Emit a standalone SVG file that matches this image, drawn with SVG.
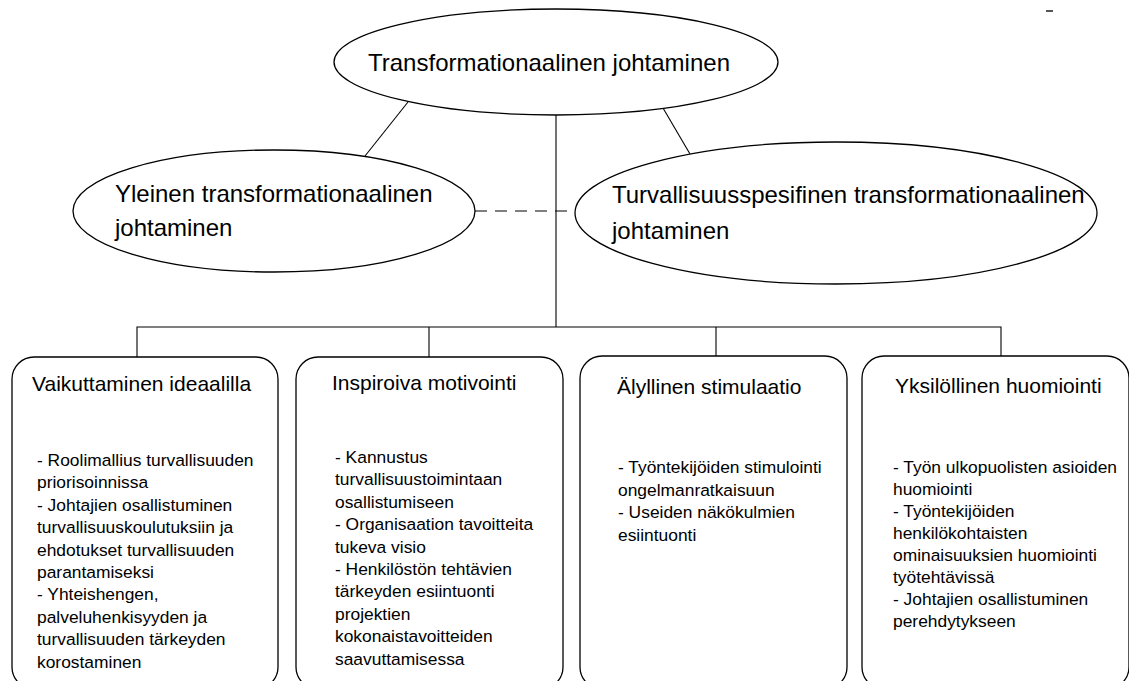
<svg xmlns="http://www.w3.org/2000/svg" width="1129" height="681" viewBox="0 0 1129 681">
<style>
.bg{fill:#ffffff}
.shape{fill:#ffffff;stroke:#000000;stroke-width:1.3}
.conn{fill:none;stroke:#000000;stroke-width:1.1}
.dash{stroke-dasharray:12 8}
.big{font-family:"Liberation Sans",Arial,sans-serif;font-size:24px;fill:#000000}
.title{font-family:"Liberation Sans",Arial,sans-serif;font-size:21px;fill:#000000}
.body{font-family:"Liberation Sans",Arial,sans-serif;font-size:17.4px;fill:#000000}
</style>
<rect class="bg" x="0" y="0" width="1129" height="681"/>
<g id="connectors">
  <line class="conn" x1="556" y1="115" x2="556" y2="327"/>
  <line class="conn" x1="408" y1="102" x2="365" y2="156"/>
  <line class="conn" x1="663" y1="108" x2="690" y2="154"/>
  <line class="conn dash" x1="475" y1="211" x2="575" y2="211"/>
  <polyline class="conn" points="137,357 137,327 1001,327 1001,357"/>
  <line class="conn" x1="429" y1="327" x2="429" y2="357"/>
  <line class="conn" x1="716" y1="327" x2="716" y2="357"/>
</g>
<g id="top">
  <ellipse class="shape" cx="556" cy="62" rx="222" ry="53"/>
  <text class="big" x="368" y="71">Transformationaalinen johtaminen</text>
</g>
<g id="general">
  <ellipse class="shape" cx="274" cy="211" rx="201" ry="61"/>
  <text class="big" x="115" y="202">Yleinen transformationaalinen<tspan x="115" dy="34">johtaminen</tspan></text>
</g>
<g id="safety">
  <ellipse class="shape" cx="836" cy="213" rx="261" ry="71"/>
  <text class="big" x="612" y="203">Turvallisuusspesifinen transformationaalinen<tspan x="612" dy="36">johtaminen</tspan></text>
</g>
<g id="box1">
  <rect class="shape" x="12" y="357" width="266" height="332" rx="22" ry="22"/>
  <text class="title" x="32" y="391">Vaikuttaminen ideaalilla</text>
  <text class="body" x="37" y="466">- Roolimallius turvallisuuden<tspan x="37" dy="22.4">priorisoinnissa</tspan><tspan x="37" dy="22.4">- Johtajien osallistuminen</tspan><tspan x="37" dy="22.4">turvallisuuskoulutuksiin ja</tspan><tspan x="37" dy="22.4">ehdotukset turvallisuuden</tspan><tspan x="37" dy="22.4">parantamiseksi</tspan><tspan x="37" dy="22.4">- Yhteishengen,</tspan><tspan x="37" dy="22.4">palveluhenkisyyden ja</tspan><tspan x="37" dy="22.4">turvallisuuden tärkeyden</tspan><tspan x="37" dy="22.4">korostaminen</tspan></text>
</g>
<g id="box2">
  <rect class="shape" x="296" y="357" width="267" height="332" rx="22" ry="22"/>
  <text class="title" x="332" y="390">Inspiroiva motivointi</text>
  <text class="body" x="335" y="463">- Kannustus<tspan x="335" dy="22.4">turvallisuustoimintaan</tspan><tspan x="335" dy="22.4">osallistumiseen</tspan><tspan x="335" dy="22.4">- Organisaation tavoitteita</tspan><tspan x="335" dy="22.4">tukeva visio</tspan><tspan x="335" dy="22.4">- Henkilöstön tehtävien</tspan><tspan x="335" dy="22.4">tärkeyden esiintuonti</tspan><tspan x="335" dy="22.4">projektien</tspan><tspan x="335" dy="22.4">kokonaistavoitteiden</tspan><tspan x="335" dy="22.4">saavuttamisessa</tspan></text>
</g>
<g id="box3">
  <rect class="shape" x="580" y="356" width="267" height="333" rx="22" ry="22"/>
  <text class="title" x="617" y="394">Älyllinen stimulaatio</text>
  <text class="body" x="618" y="473">- Työntekijöiden stimulointi<tspan x="618" dy="22.6">ongelmanratkaisuun</tspan><tspan x="618" dy="22.6">- Useiden näkökulmien</tspan><tspan x="618" dy="22.6">esiintuonti</tspan></text>
</g>
<g id="box4">
  <rect class="shape" x="862" y="356" width="267" height="333" rx="22" ry="22"/>
  <text class="title" x="895" y="393">Yksilöllinen huomiointi</text>
  <text class="body" x="893" y="473">- Työn ulkopuolisten asioiden<tspan x="893" dy="22">huomiointi</tspan><tspan x="893" dy="22">- Työntekijöiden</tspan><tspan x="893" dy="22">henkilökohtaisten</tspan><tspan x="893" dy="22">ominaisuuksien huomiointi</tspan><tspan x="893" dy="22">työtehtävissä</tspan><tspan x="893" dy="22">- Johtajien osallistuminen</tspan><tspan x="893" dy="22">perehdytykseen</tspan></text>
</g>
<g id="mark">
  <line x1="1046" y1="11" x2="1053" y2="11" stroke="#555555" stroke-width="2"/>
</g>
</svg>
